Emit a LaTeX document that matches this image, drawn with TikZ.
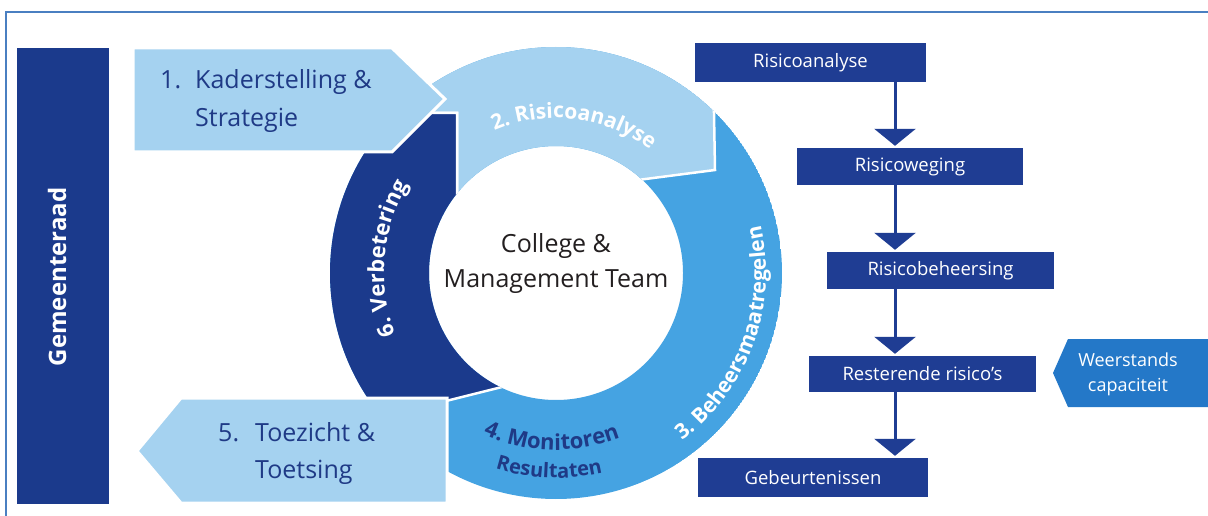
\documentclass[tikz,border=0pt]{standalone}
\usepackage{fontspec}
\setmainfont{Open Sans}
\usetikzlibrary{decorations.text,arrows.meta}
\definecolor{navy}{HTML}{1B3A8C}
\definecolor{boxnavy}{HTML}{1F3D93}
\definecolor{lightb}{HTML}{A5D2F0}
\definecolor{medb}{HTML}{45A3E2}
\definecolor{weer}{HTML}{2478C8}
\definecolor{txtnavy}{HTML}{1F3A86}
\definecolor{txtgray}{HTML}{231F20}
\definecolor{frame}{HTML}{4A7FC1}
\begin{document}
\begin{tikzpicture}[x=1pt,y=1pt,
  fbox/.style={fill=boxnavy, text=white, inner sep=0pt, font=\fontsize{18.5}{20}\selectfont},
  flowarrow/.style={draw=boxnavy, line width=3pt, -{Triangle[width=41pt,length=17pt]}, shorten >=2pt},
  sep/.style={draw=white, line width=2.5pt},
  boxtxt/.style={text=txtnavy, inner sep=0pt, anchor=base west, font=\fontsize{25}{30}\selectfont},
  arctxt/.style={decorate, decoration={text along path, text align=center, text color=#1}}
]
\useasboundingbox (0,0) rectangle (1208,-516);
\fill[white] (0,0) rectangle (1208,-516);
\draw[frame, line width=2pt] (6,-516) -- (6,-12) -- (1208,-12);

% Gemeenteraad bar
\node[fill=navy, minimum width=92pt, minimum height=456pt, inner sep=0pt] (bar) at (63,-276) {};
\node[rotate=90, text=white, inner sep=0pt, font=\fontsize{24}{24}\selectfont\bfseries] (gem) at (57,-277) {Gemeenteraad};

% ring
\coordinate (C) at (556,-273);
\begin{scope}[even odd rule]
  \clip (C) circle[radius=226] (C) circle[radius=127];
  \fill[medb] (C) circle[radius=226];
  \filldraw[fill=lightb, sep] (300,0) -- (300,-113) -- (457,-113) -- (457,-273) -- (600,-273) -- (620,-182.3) -- (715,-170) -- (712,0) -- cycle;
  \filldraw[fill=navy, sep] (300,-113) -- (457,-113) -- (457,-273) -- (520,-273) -- (520,-382.5) -- (300,-437.5) -- cycle;
\end{scope}

% box 1 and box 5
\filldraw[fill=lightb, draw=white, line width=3pt] (133,-48) -- (392,-48) -- (445,-99) -- (392,-152) -- (133,-152) -- cycle;
\filldraw[fill=lightb, draw=white, line width=3pt] (447,-398) -- (447,-503) -- (181,-503) -- (137,-451) -- (181,-398) -- cycle;

\node[boxtxt] (k1) at (160,-89) {1.};
\node[boxtxt] (k2) at (195,-89) {Kaderstelling \&};
\node[boxtxt] (k3) at (195,-127) {Strategie};
\node[boxtxt] (t1) at (218,-441) {5.};
\node[boxtxt] (t2) at (255,-441) {Toezicht \&};
\node[boxtxt] (t3) at (255,-478) {Toetsing};

% arc texts
\path[arctxt=white, decoration={text={|\bfseries\fontsize{21}{21}\selectfont|2. Risicoanalyse}}]
  ([shift={(133:155)}]C) arc[start angle=133, end angle=33, radius=155];
\path[arctxt=white, decoration={text={|\bfseries\fontsize{21}{21}\selectfont|3. Beheersmaatregelen}}]
  ([shift={(-70:210)}]C) arc[start angle=-70, end angle=30, radius=210];
\path[arctxt=white, decoration={text={|\bfseries\fontsize{22}{22}\selectfont|6. Verbetering}}]
  ([shift={(215:172)}]C) arc[start angle=215, end angle=135, radius=172];
\path[arctxt=txtnavy, decoration={text={|\bfseries\fontsize{22}{22}\selectfont|4. Monitoren}}]
  ([shift={(-141.5:177)}]C) arc[start angle=-141.5, end angle=-41.5, radius=177];
\path[arctxt=txtnavy, decoration={text={|\bfseries\fontsize{20}{20}\selectfont|Resultaten}}]
  ([shift={(-142:205)}]C) arc[start angle=-142, end angle=-42, radius=205];

\node[align=center, text=txtgray, font=\fontsize{25}{35}\selectfont] (cm) at (556,-264) {College \&\\Management Team};

% flowchart
\node[fbox, minimum width=231pt, minimum height=39pt] (ra) at (810.5,-62.5) {Risicoanalyse};
\node[fbox, minimum width=226pt, minimum height=37pt] (rw) at (910,-166.5) {Risicoweging};
\node[fbox, minimum width=227pt, minimum height=37pt] (rb) at (940.5,-270.5) {Risicobeheersing};
\node[fbox, minimum width=227pt, minimum height=36pt] (rr) at (922.5,-374) {Resterende risico’s};
\node[fbox, minimum width=230pt, minimum height=39pt] (gb) at (813,-477.5) {Gebeurtenissen};
\coordinate (ax) at (895,0);
\draw[flowarrow] (ra.south -| ax) -- (rw.north -| ax);
\draw[flowarrow] (rw.south -| ax) -- (rb.north -| ax);
\draw[flowarrow] (rb.south -| ax) -- (rr.north -| ax);
\draw[flowarrow] (rr.south -| ax) -- (gb.north -| ax);

% Weerstands capaciteit
\fill[weer] (1053,-373) -- (1068,-339) -- (1208,-339) -- (1208,-407) -- (1068,-407) -- cycle;
\node[text=white, align=center, inner sep=0pt, font=\fontsize{18}{25}\selectfont] (wc) at (1128,-374) {Weerstands\\capaciteit};
\end{tikzpicture}
\end{document}
